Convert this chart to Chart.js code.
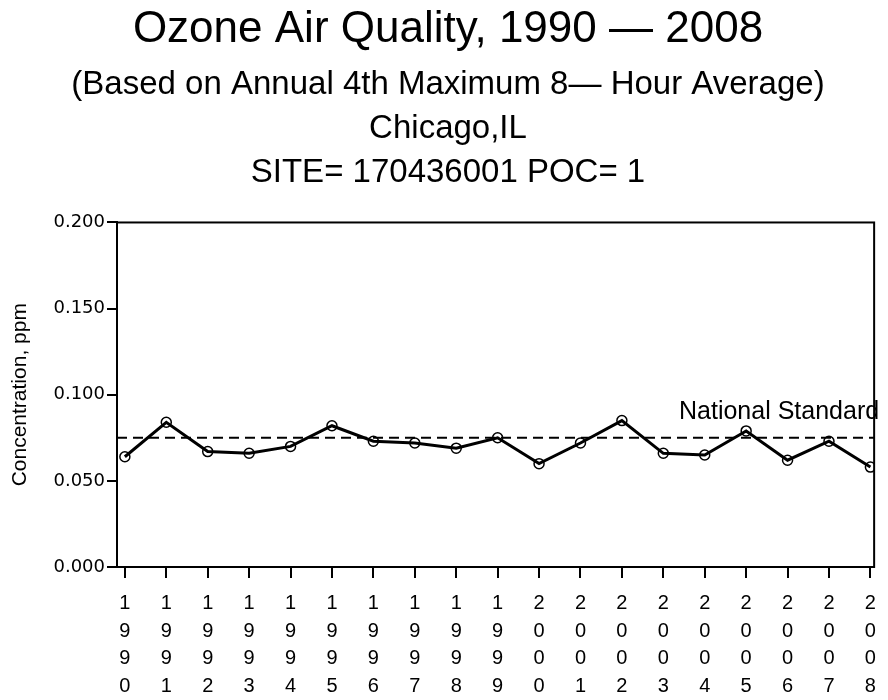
<!DOCTYPE html>
<html>
<head>
<meta charset="utf-8">
<script src="https://cdn.jsdelivr.net/npm/chart.js@4/dist/chart.umd.min.js"></script>
<style>
  body { margin: 0; background: #fff; }
  #chart { display: block; }
</style>
</head>
<body>
<canvas id="chart" width="888" height="700"></canvas>
<script>
const years = [1990, 1991, 1992, 1993, 1994, 1995, 1996, 1997, 1998, 1999,
               2000, 2001, 2002, 2003, 2004, 2005, 2006, 2007, 2008];
const ozone = [0.064, 0.084, 0.067, 0.066, 0.070, 0.082, 0.073, 0.072, 0.069, 0.075,
               0.060, 0.072, 0.085, 0.066, 0.065, 0.079, 0.062, 0.073, 0.058];
const nationalStandard = 0.075;
const yTicks = [0.000, 0.050, 0.100, 0.150, 0.200];

const titleText = 'Ozone Air Quality, 1990 \u2014 2008';
const subtitleLines = ['(Based on Annual 4th Maximum 8\u2014 Hour Average)', 'Chicago,IL', 'SITE= 170436001 POC= 1'];

const FONT = '"Liberation Sans", Arial, sans-serif';
const WIDE = '"DejaVu Sans", sans-serif';

// frame + dashed standard line + its label
const extras = {
    id: 'extras',
    beforeDatasetsDraw(chart) {
        const { ctx, chartArea, scales } = chart;
        const y = scales.y.getPixelForValue(nationalStandard);
        ctx.save();
        ctx.strokeStyle = '#000';
        ctx.lineWidth = 2;
        ctx.setLineDash([10, 6]);
        ctx.beginPath();
        ctx.moveTo(chartArea.left, y);
        ctx.lineTo(chartArea.right, y);
        ctx.stroke();
        ctx.restore();
    },
    afterDraw(chart) {
        const { ctx, chartArea, scales } = chart;
        ctx.save();
        ctx.strokeStyle = '#000';
        ctx.lineWidth = 2;
        ctx.strokeRect(chartArea.left, chartArea.top, chartArea.right - chartArea.left, chartArea.bottom - chartArea.top);
        const y = scales.y.getPixelForValue(nationalStandard);
        ctx.fillStyle = '#000';
        ctx.font = '25px ' + FONT;
        ctx.textAlign = 'right';
        ctx.textBaseline = 'alphabetic';
        ctx.fillText('National Standard', chartArea.right + 5, y - 19);
        ctx.restore();
    }
};

new Chart(document.getElementById('chart'), {
    type: 'line',
    data: {
        datasets: [{
            label: 'Ozone',
            data: years.map((yr, i) => ({ x: yr, y: ozone[i] })),
            borderColor: '#000',
            borderWidth: 3,
            pointRadius: 5,
            pointBorderWidth: 1.5,
            pointBorderColor: '#000',
            pointBackgroundColor: 'rgba(0,0,0,0)',
            tension: 0
        }]
    },
    plugins: [extras],
    options: {
        responsive: false,
        animation: false,
        layout: { padding: { left: 10, right: 2, top: 0, bottom: 0 } },
        plugins: {
            legend: { display: false },
            tooltip: { enabled: false },
            title: {
                display: true,
                text: titleText,
                color: '#000',
                font: { family: FONT, size: 44, weight: 'normal', lineHeight: 1.2 },
                padding: { top: 3, bottom: 7 }
            },
            subtitle: {
                display: true,
                text: subtitleLines,
                color: '#000',
                font: { family: FONT, size: 33, weight: 'normal', lineHeight: 1.33 },
                padding: { top: 0, bottom: 28 }
            }
        },
        scales: {
            x: {
                type: 'linear',
                min: 1989.81,
                max: 2008.09,
                afterBuildTicks: s => { s.ticks = years.map(v => ({ value: v })); },
                afterFit: s => { s.height = 133; },
                grid: { drawOnChartArea: false, drawTicks: true, tickLength: 11, color: '#000', lineWidth: 2 },
                border: { display: true, color: '#000', width: 2 },
                ticks: {
                    color: '#000',
                    padding: 12,
                    maxRotation: 0,
                    autoSkip: false,
                    font: { family: FONT, size: 20, lineHeight: 1.375 },
                    callback: v => String(v).split('')
                }
            },
            y: {
                min: 0,
                max: 0.2,
                afterBuildTicks: s => { s.ticks = yTicks.map(v => ({ value: v })); },
                afterFit: s => { s.width = 107; },
                grid: { drawOnChartArea: false, drawTicks: true, tickLength: 10, color: '#000', lineWidth: 2 },
                border: { display: true, color: '#000', width: 2 },
                title: {
                    display: true,
                    text: 'Concentration, ppm',
                    color: '#000',
                    font: { family: FONT, size: 21, lineHeight: 1.2 },
                    padding: { top: -2, bottom: 0 }
                },
                ticks: {
                    color: '#000',
                    padding: 2,
                    font: { family: WIDE, size: 18 },
                    callback: v => v.toFixed(3)
                }
            },
            // empty right-hand strip so the plot ends where the reference frame ends
            yRight: {
                position: 'right',
                display: true,
                min: 0,
                max: 0.2,
                afterFit: s => { s.width = 4; },
                grid: { display: false },
                border: { display: false },
                ticks: { display: false }
            }
        }
    }
});
</script>
</body>
</html>
